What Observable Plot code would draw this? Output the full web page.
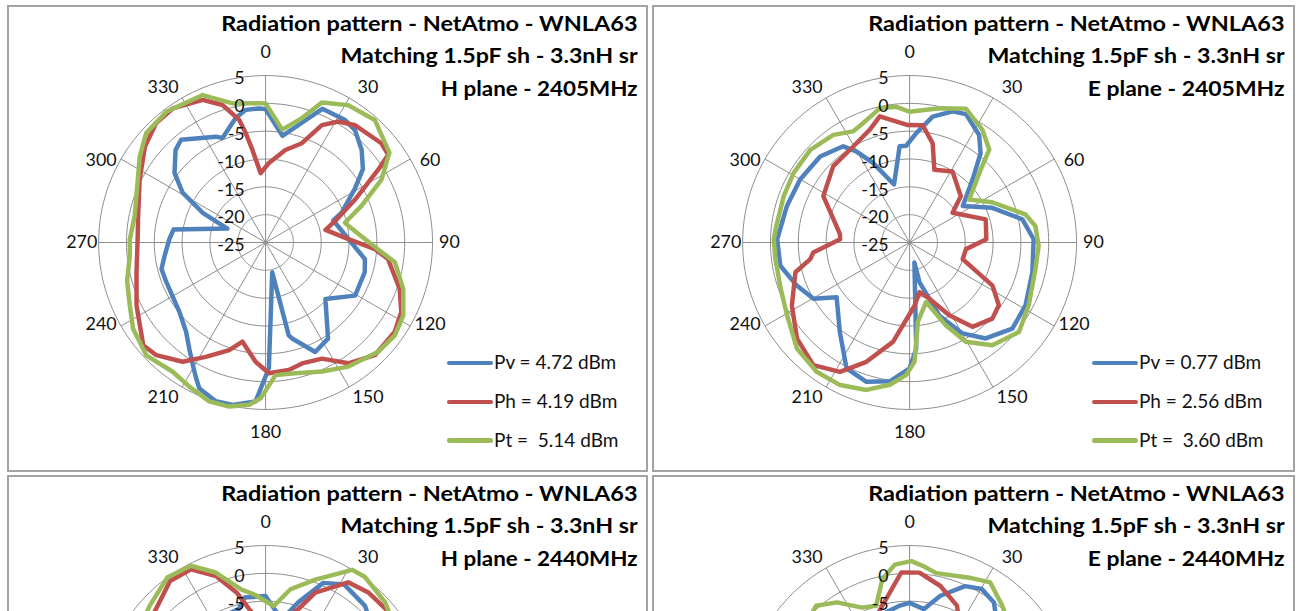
<!DOCTYPE html>
<html><head><meta charset="utf-8">
<script src="https://cdn.jsdelivr.net/npm/d3@7"></script>
<script src="https://cdn.jsdelivr.net/npm/@observablehq/plot@0.6"></script>
<style>
html,body{margin:0;padding:0;background:#fff;overflow:hidden}
#page{position:relative;width:1301px;height:611px;overflow:hidden;background:#fff;font-family:Lato,"Open Sans",sans-serif}
.panel{position:absolute;box-sizing:border-box;border:2px solid #a3a3a3;background:#fff;overflow:hidden}
.panel svg{position:absolute;left:-2px;top:-2px}
.sw{position:absolute;height:4.5px;border-radius:2.25px}
.lt{position:absolute;font-size:19px;line-height:22.8px;white-space:pre;color:#111}
</style></head><body><div id="page"></div><script>
// ---------- data ----------
const angleTicks = [0,30,60,90,120,150,180,210,240,270,300,330];
const ringValues = [5,0,-5,-10,-15,-20,-25];
const seriesNames = ["Pv","Ph","Pt"];
const seriesColors = ["#4f81bd","#c0504d","#9bbb59"];
const titleLine1 = "Radiation pattern - NetAtmo - WNLA63";
const titleLine2 = "Matching 1.5pF sh - 3.3nH sr";
const planeTitles = ["H plane - 2405MHz","E plane - 2405MHz","H plane - 2440MHz","E plane - 2440MHz"];
const legendH2405 = ["Pv = 4.72 dBm","Ph = 4.19 dBm","Pt =  5.14 dBm"];
const legendE2405 = ["Pv = 0.77 dBm","Ph = 2.56 dBm","Pt =  3.60 dBm"];

// [angle deg, level dBm]
const H2405_Pv = [[0,-1.0],[9,-5.6],[17.5,-2.2],[23,1.1],[33,1.25],[38.5,0.8],[46,-1.0],[53,-3.1],[59,-6.3],[68.5,-10.3],[72,-12.2],[99.5,-6.9],[106.7,-6.4],[120.7,-6.3],[133.4,-10.2],[147,-4.4],[155.6,-3.4],[164.5,-7.1],[166,-7.8],[167.5,-19.5],[178.5,-2.4],[183.6,3.6],[191.5,4.8],[197.4,4.9],[204.4,3.8],[207.1,2.4],[210.7,0.6],[215.7,-1.5],[221.6,-3.5],[231,-5.1],[248.2,-5.8],[255.7,-5.7],[262.5,-6.7],[272,-7.7],[278,-8.3],[290,-17.7],[295.3,-12.5],[301,-7.6],[307.4,-4.4],[315.8,-1.8],[320.6,-1.1],[334.9,-4.0],[337.6,-4.7],[346.5,-2.0],[351.5,-0.9],[357,-0.9]];
const H2405_Ph = [[2.4,-10.7],[12.1,-8.0],[20.1,-6.0],[25.6,-1.6],[31.1,0.4],[37.3,1.5],[49.4,2.4],[54.4,2.1],[57.1,-0.9],[64.3,-7.1],[72.8,-11.9],[78.1,-14.0],[87.7,-10.1],[93.5,-5.3],[97.7,-2.8],[109.1,0.5],[117.1,2.4],[124.7,3.2],[135.9,3.2],[145.6,1.3],[154.1,-1.8],[163.2,-2.3],[169.7,-1.7],[178.5,-1.5],[184.8,-3.5],[193.1,-6.7],[198.7,-4.6],[207.6,-1.8],[214.8,1.1],[224.1,3.2],[230,3.7],[244,0.8],[257,-1.2],[271.5,-2.0],[283.2,-1.5],[296.6,0.3],[308.5,2.7],[317.5,4.1],[325.3,4.3],[336.2,3.0],[342.6,0.9],[347.8,-2.4],[349.7,-5.0],[351.9,-8.2],[355.9,-12.5]];
const H2405_Pt = [[0,0],[8.4,-4.5],[16.3,-1.7],[21.9,2.1],[31,3.8],[41.7,4.5],[54,2.5],[61.5,-1.3],[69,-6.5],[76,-10.3],[78.7,-9.8],[93.4,-4.8],[98.7,-1.5],[108.6,1.1],[117.9,3.0],[125.7,3.6],[134.1,3.2],[146.3,1.8],[156.4,0.3],[167.2,-0.9],[175.7,-1.1],[181.8,3.0],[185.8,4.3],[192.5,5.2],[199.5,5.3],[207.9,4.3],[215.7,3.6],[226.6,4.5],[237,3.4],[245.1,1.9],[254.7,0.8],[264.5,-0.5],[271.4,-0.6],[281.4,-1.0],[304.4,2.4],[312.5,4.1],[322.8,4.5],[336.9,3.8],[346.6,0.7],[355.9,0.1]];

const E2405_Pv = [[3.5,-5.3],[10.4,-2.0],[18.2,-0.2],[23.7,0.2],[32.9,-2.0],[38.5,-4.5],[45,-9.0],[55.5,-13.4],[67.2,-8.9],[78.4,-4.3],[88.5,-2.7],[103.7,-2.3],[118.5,-1.3],[130,-0.9],[141.6,-3.0],[149.8,-6.1],[157.8,-10.8],[166,-17.6],[166.5,-21.3],[176.4,-5.9],[180,-2.4],[188.1,0.2],[197.2,1.2],[206.6,0.3],[217.9,-4.6],[233.1,-8.6],[239.6,-5.0],[249.1,-3.3],[259.8,-1.4],[271.4,-1.2],[286.6,-2.0],[299.9,-2.3],[313.9,-2.7],[325.4,-4.0],[329.8,-6.1],[335.4,-9.3],[345,-14.2],[354.1,-7.6],[358,-7.6]];
const E2405_Ph = [[6.4,-3.8],[13.1,-6.7],[18.8,-11.2],[31.2,-10.1],[47.9,-12.6],[55.3,-15.6],[73.1,-10.7],[87.6,-11.2],[96.7,-14.8],[107.4,-15.0],[117.5,-8.2],[125.1,-5.4],[132.6,-4.8],[143.3,-6.1],[151.4,-10.1],[160.6,-14.3],[168.7,-15.9],[175.5,-13.6],[189.5,-6.9],[199.9,-2.2],[208.3,1.4],[218.1,3.0],[229.5,1.6],[241.8,-1.0],[255.4,-3.8],[260.5,-6.9],[264.1,-7.6],[272.7,-12.5],[276.8,-12.4],[298.3,-7.4],[315,-5.6],[329.6,-5.0],[340.6,-3.5],[346.7,-1.7],[359.2,-3.9]];
const E2405_Pt = [[0,-1.5],[12.5,-0.3],[22.8,1.1],[32.9,-0.9],[40.6,-3.0],[44.3,-6.7],[54.2,-11.8],[64,-8.5],[76.3,-3.6],[82.5,-2.2],[91.5,-1.8],[101.9,-1.9],[117.8,-0.8],[129.3,0.4],[141.1,-1.3],[150.5,-4.5],[156.3,-8.7],[164.5,-13.9],[174,-10.7],[177.6,-3.6],[181.4,-1.2],[187.9,0.8],[196.3,2.6],[206,3.5],[215.7,3.6],[226.7,2.8],[239.3,0.6],[250.3,-0.4],[263,-0.7],[271.4,-0.6],[275.8,-0.8],[290.2,-0.9],[301,-0.7],[313,-0.6],[324.7,-1.3],[333.1,-2.6],[340.6,-1.7],[347.5,-0.3],[354.4,-0.5]];

// 2440 MHz panels: only the upper part is visible in the picture (open arcs)
const H2440_Pv = [[300,-8],[330,-6],[345.4,-5.8],[349.7,-4.0],[0,-4.05],[4,-6],[10,-8],[16.6,-4.3],[24,0.5],[31.5,2.0],[43,1.2],[55,-1]];
const H2440_Ph = [[300,1],[324,4.2],[332.5,4.0],[340,1.1],[346.4,-2.8],[351,-6.2],[0,-10],[17.6,-5.5],[22.5,-1.7],[32.4,2.7],[40.8,3.4],[49.3,3.5],[60,2.5]];
const H2440_Pt = [[300,2.0],[312.6,3.3],[323.9,5.0],[333,4.6],[340.4,1.7],[348.6,-2.4],[355,-3.8],[4.4,-5.8],[11.4,-2.4],[20.5,0.5],[31.3,5.0],[36.1,5.2],[47.5,4.2],[60,2.5]];
const E2440_Pv = [[300,-5],[320,-3],[335,-7],[354.3,-5.75],[0,-5.3],[7.8,-6.25],[14.8,-3.3],[23.7,-0.2],[30.3,0.7],[37.5,-0.1],[50,-4]];
const E2440_Ph = [[300,-10],[330,-9],[345.7,-5.2],[356.6,0.2],[4,0.2],[13.7,-1.6],[23.9,-4.0],[40,-10]];
const E2440_Pt = [[300,-1],[318.8,0.5],[326.6,-1.3],[335.6,-4.3],[342.6,-4.9],[348.4,-0.6],[354.3,1.7],[0.7,2.2],[5.5,1.4],[10.8,0.5],[23.9,1.5],[31.8,2.5],[41,0.4],[55,-2]];

// ---------- drawing ----------
const RMIN = -25, RMAX = 5;
const K = 5.6;            // px per dB
const rad = a => a * Math.PI / 180;
const px = (a, v) => (v - RMIN) * Math.sin(rad(a));
const py = (a, v) => (v - RMIN) * Math.cos(rad(a));
const page = document.getElementById("page");

function makePanel({left, top, width, height, cx, cy, title, series, legend, closed, visibleH}) {
  const div = document.createElement("div");
  div.className = "panel";
  Object.assign(div.style, {left: left + "px", top: top + "px", width: width + "px", height: height + "px"});
  page.appendChild(div);

  // label radius (px) and angle nudges, Excel-like placement
  const labR = a => (185 + 6 * Math.pow(Math.cos(rad(a)), 8)) / K;
  const labAngle = a => a + 4 * Math.sin(rad(2 * a));
  const labX = a => labR(a) * Math.sin(rad(labAngle(a)));
  const labY = a => labR(a) * Math.cos(rad(labAngle(a)));
  // keep only the labels that fall inside the visible window
  const inView = yUnits => (cy - yUnits * K) < visibleH;
  const angleLabels = angleTicks.filter(a => inView(labY(a)));
  const ringLabels = ringValues.filter(v => inView(v - RMIN - 3 / K));

  const ringData = ringValues.filter(v => v > RMIN).flatMap(v => d3.range(0, 361, 2).map(a => ({a, v})));
  const marks = [
    Plot.line(ringData, {x: d => px(d.a, d.v), y: d => py(d.a, d.v), z: "v", stroke: "#8c8c8c", strokeWidth: 1}),
    Plot.link(angleTicks, {x1: 0, y1: 0, x2: a => px(a, RMAX), y2: a => py(a, RMAX), stroke: "#8c8c8c", strokeWidth: 1})
  ];
  series.forEach((s, i) => {
    marks.push(Plot.line(s, {x: d => px(d[0], d[1]), y: d => py(d[0], d[1]), stroke: seriesColors[i], strokeWidth: 4.5,
      strokeLinejoin: "round", strokeLinecap: "round", curve: closed ? "linear-closed" : "linear"}));
  });
  marks.push(
    Plot.text(ringLabels, {x: 0, y: v => v - RMIN, text: v => String(v), textAnchor: "end", dx: -21, dy: 3, fontSize: 18, fill: "#111"}),
    Plot.text(angleLabels, {x: labX, y: labY, text: a => String(a), fontSize: 18, fill: "#111"}),
    Plot.text([title[0]], {frameAnchor: "top-right", dx: -7, dy: 25.5, lineAnchor: "bottom", fontWeight: "bold", fontSize: 21, fill: "#000"}),
    Plot.text([title[1]], {frameAnchor: "top-right", dx: -7, dy: 58.3, lineAnchor: "bottom", fontWeight: "bold", fontSize: 21, fill: "#000"}),
    Plot.text([title[2]], {frameAnchor: "top-right", dx: -7, dy: 90.7, lineAnchor: "bottom", fontWeight: "bold", fontSize: 21, fill: "#000"})
  );

  const svg = Plot.plot({
    width, height, margin: 0,
    x: {type: "linear", domain: [-cx / K, (width - cx) / K], range: [0, width], axis: null},
    y: {type: "linear", domain: [-(height - cy) / K, cy / K], range: [height, 0], axis: null},
    style: {fontFamily: "Lato, 'Open Sans', sans-serif", fontSize: "18px", background: "transparent", overflow: "visible"},
    marks
  });
  const fit = {[title[0]]: 419, [title[1]]: 299, [title[2]]: 198};
  d3.select(svg).selectAll("text").each(function() {
    const w = fit[this.textContent];
    if (w) { this.setAttribute("textLength", w); this.setAttribute("lengthAdjust", "spacingAndGlyphs"); }
  });
  div.appendChild(svg);

  if (legend) {
    const rowsY = [358, 397, 435.5];
    legend.forEach((t, i) => {
      const sw = document.createElement("div");
      sw.className = "sw";
      Object.assign(sw.style, {left: (440 - 2) + "px", top: (rowsY[i] - 2.25 - 2) + "px", width: "46px", background: seriesColors[i]});
      div.appendChild(sw);
      const tx = document.createElement("div");
      tx.className = "lt";
      tx.textContent = t;
      Object.assign(tx.style, {left: (487 - 2) + "px", top: (rowsY[i] + 7 - 18.75 - 2) + "px"});
      div.appendChild(tx);
    });
  }
}

makePanel({left: 7, top: 5, width: 641, height: 467, cx: 259.7, cy: 238.5, visibleH: 467,
  title: [titleLine1, titleLine2, planeTitles[0]], series: [H2405_Pv, H2405_Ph, H2405_Pt], legend: legendH2405, closed: true});
makePanel({left: 652, top: 5, width: 643, height: 467, cx: 258.7, cy: 238.5, visibleH: 467,
  title: [titleLine1, titleLine2, planeTitles[1]], series: [E2405_Pv, E2405_Ph, E2405_Pt], legend: legendE2405, closed: true});
makePanel({left: 7, top: 475, width: 641, height: 467, cx: 259.7, cy: 238.5, visibleH: 611 - 475 + 4,
  title: [titleLine1, titleLine2, planeTitles[2]], series: [H2440_Pv, H2440_Ph, H2440_Pt], legend: null, closed: false});
makePanel({left: 652, top: 475, width: 643, height: 467, cx: 258.7, cy: 238.5, visibleH: 611 - 475 + 4,
  title: [titleLine1, titleLine2, planeTitles[3]], series: [E2440_Pv, E2440_Ph, E2440_Pt], legend: null, closed: false});
</script></body></html>
